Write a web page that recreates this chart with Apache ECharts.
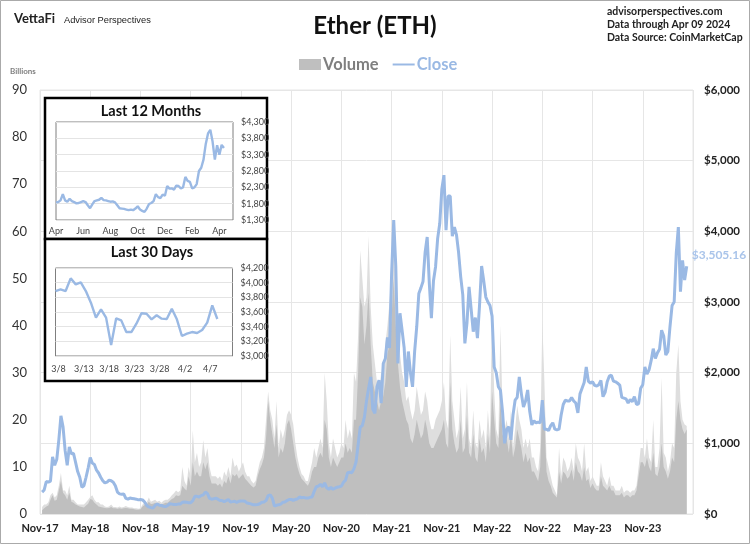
<!DOCTYPE html>
<html>
<head>
<meta charset="utf-8">
<title>Ether (ETH)</title>
<style>
  html, body { margin: 0; padding: 0; background: #fff; }
  #main { width: 750px; height: 544px; }
</style>
</head>
<body>
<div id="main"></div>
<script src="https://cdnjs.cloudflare.com/ajax/libs/echarts/6.0.0/echarts.min.js"></script>
<script type="text/javascript">
// main chart: four readings per month, starting Nov-17
var tickLabels = ['Nov-17','May-18','Nov-18','May-19','Nov-19','May-20','Nov-20','May-21','Nov-21','May-22','Nov-22','May-23','Nov-23',''];
var close = [
  null,310,340,460, 450,465,810,690, 770,1050,1390,1235, 900,690,950,850, 860,730,600,520, 380,400,520,650,
  800,720,700,620, 580,520,470,440, 450,480,470,450, 400,310,285,280, 285,220,210,225, 220,215,210,200,
  205,200,170,120, 100,90,85,120, 140,125,120,110, 105,120,145,140, 135,135,140,140, 165,170,165,160,
  160,190,250,250, 240,260,270,310, 290,220,210,215, 225,210,190,190, 175,190,205,170, 175,180,165,180,
  185,185,180,155, 150,140,130,130, 135,145,165,170, 190,260,270,225, 110,125,130,140, 165,170,190,205,
  205,195,205,215, 240,230,235,225, 225,235,240,320, 385,395,420,385, 440,370,350,375, 350,365,380,385,
  395,450,480,585, 590,585,640,735, 980,1230,1250,1370, 1600,1780,1940,1480, 1425,1800,1895,1570, 2130,2200,2500,2350,
  3400,4160,3500,2130, 2840,2600,2350,1800, 2300,2000,1800,2300, 2650,3120,3200,3290, 3700,3920,3270,2770, 3300,3500,3900,4110,
  4600,4795,4015,4500, 4500,3930,4060,3950, 3700,3360,3100,2415, 2700,3215,2900,2580, 2780,2490,2950,3510, 3300,3070,3000,2950,
  2800,2080,2000,1800, 1750,1450,1000,1200, 1235,1050,1400,1610, 1650,1940,1700,1515, 1600,1755,1450,1260, 1320,1290,1300,1290,
  1610,1200,1200,1180, 1250,1290,1200,1190, 1200,1400,1550,1610, 1600,1600,1650,1600, 1570,1430,1700,1780, 1860,2080,1880,1850,
  1870,1820,1810,1830, 1890,1660,1720,1870, 1950,1965,1880,1870, 1850,1825,1650,1640, 1630,1570,1620,1590, 1660,1550,1560,1780,
  1830,2080,1980,2040, 2170,2340,2200,2280, 2330,2600,2520,2250, 2300,2650,2950,3000, 3690,4060,3145,3590, 3310,3505.16
];
var volume = [
  null,0.8,1.2,1.6, 1.8,3,4,2.8, 3,5,7,4.5, 4,3,4.5,2.6, 2.4,2,1.8,1.6, 1.5,1.4,1.8,2.2,
  3.2,3,2.4,2, 1.6,1.5,1.4,1.3, 1.2,1.3,1.5,1.2, 1.2,1.1,1.2,1.1, 1.2,1.3,1.2,1.1, 1.1,1,0.9,0.9,
  1,1.6,1.9,2, 2.6,2.1,2.2,2.4, 2.1,2.2,2,2.2, 2.4,2.4,2.8,3.2, 3.4,4,3.8,4, 6,5.4,5,8,
  6,11,8,9, 8,8,11,9.5, 11,8,6.5,6.5, 6.5,6,6.5,5.6, 7,6.5,8,6.5, 8.5,8,8.5,7.5,
  8,8.5,7.5,7, 6.5,6,5.6,6, 8,9.5,10.5,12, 16,24,20,17, 14,19,12,14, 13,15,19,20,
  18,15,12,10, 8.5,7.5,7,6.5, 6,7,9,10, 10,12,13,12, 20,18,12,10, 12,11,10,11,
  12,12,15,13, 14,13,20,20, 30,46,44,36, 40,47,36,28, 26,24,22,24, 25,28,34,36,
  42,50,40,32, 27,24,22,20, 19,16,15,17, 20,18,16,17, 20,18,15,14, 14,15,16,17,
  18,20,15,14, 28,18,15,13, 14,20,13,14, 21,13,12,17, 12,11,16,13, 14,11,17,13,
  26,20,15,14, 24,17,15,16, 13,17,12,14, 18,16,14,11, 13,11,12,9, 9,8,7,10,
  24,20,9,7, 6,4.5,4,3.5, 9,6.5,9,8.5, 7.5,8,9.5,7, 11,9,8.5,7, 10,7,7.5,5.5,
  6.5,5.5,5,5, 8,6,5.5,5, 6,5,5,4, 4,4,4.5,3.5, 4,4,3.5,4, 4,5,8,11,
  11,10,12,10, 9,13,8.5,8, 10,15,10,9, 7.5,9,12,11, 20,24,20,18, 17,18
];
// tops of the daily spikes, which show as a paler fringe above the solid volume
var volumePeak = [
  null,1.5,2,2, 2.5,4,4.5,3.5, 4,6,8.7,5, 5,4,6,3, 3,2.5,2,2, 2,2,2.5,3,
  3.6,4,3,2.5, 2.5,2,2,1.6, 1.5,1.6,2,1.5, 1.5,1.4,1.6,1.4, 1.5,1.7,1.5,1.4, 1.4,1.2,1.2,1.1,
  1.2,2,2.5,2.5, 3.5,2.6,2.8,3, 2.6,2.8,2.4,2.8, 3,3,3.4,4, 4.4,5,4.6,5, 10,7,6,10,
  8,17.8,11,13, 10,11,15.7,12, 14,10,8,8, 8,7.5,8,7, 9,8,10,8, 12,10,10.5,9,
  10,11,9,8, 8,7,6.5,7, 9,11,12,14, 20,26,22,20, 16,24,14,18, 16,18,21,22,
  21,19,15,12, 10,8.5,8,7, 7,9,11,14, 12,14,16,14, 30,24,15,12, 16,14,12,13,
  15,14,20,16, 18,16,30,28, 38,56,50,44, 46,59,44,36, 32,28,26,30, 30,36,40,45,
  52,57,48,40, 34,30,28,24, 25,22,20,22, 27,24,21,22, 26,24,20,18, 18,20,21,22,
  24,28,20,18, 38,24,20,16, 18,27,16,18, 28,16,14,22, 15,14,20,16, 18,14,22,16,
  44,26,18,16, 40,22,18,20, 16,22,14,18, 23,20,18,14, 16,14,16,12, 12,10,9,14,
  41,28,12,10, 8,6,5,4, 14,8,12,11, 9,10,12,9, 15,12,11,9, 15,9,10,7,
  8,7,6,6, 11,8,7,6, 8,6,6,5, 5,5,6,4.5, 5,5,4.5,5, 5,6,10,14,
  14,12,16,12, 11,20,10,10, 14,29,13,12, 9,11,15,14, 30,36,24,20, 19,18.7
];

// last 12 months inset: six readings per month, starting Apr
var yearTicks = ['Apr','Jun','Aug','Oct','Dec','Feb','Apr'];
var yearClose = [
  1840,1850,1900,2090,1900,1860,1950,1880,1850,1810,1820,1850,
  1880,1850,1750,1660,1780,1880,1900,1920,1980,1910,1900,1880,
  1860,1870,1840,1750,1660,1650,1640,1620,1600,1620,1600,1650,
  1720,1620,1580,1550,1650,1790,1820,1880,2090,2000,1970,2080,
  2040,2340,2260,2270,2230,2350,2340,2270,2300,2620,2500,2470,
  2270,2300,2400,2800,2900,3150,3630,3950,4060,3700,3150,3590,
  3300,3600,3505
];

// last 30 days inset: one reading per day, from 3/8 to 4/9
var dayTicks = ['3/8','3/13','3/18','3/23','3/28','4/2','4/7'];
var dayClose = [
  3886,3909,3886,4059,3977,4005,3886,3727,3523,3636,3523,3150,3514,3486,3327,3327,3441,
  3582,3577,3500,3555,3509,3505,3645,3500,3273,3305,3327,3314,3355,3455,3691,3505
];

var font = 'Lato, "Noto Sans", sans-serif';
var closeColor = '#9ab9e4';
var usd = function (v) { return '$' + v.toLocaleString('en-US'); };

var categories = [];
for (var i = 0; i <= 312; i++) categories.push(i % 24 === 0 ? tickLabels[i / 24] : '');
var yearCats = [];
for (var i = 0; i <= 78; i++) yearCats.push(i % 12 === 0 ? yearTicks[i / 12] : '');
var dayCats = [];
for (var i = 0; i <= 35; i++) dayCats.push(i % 5 === 0 ? dayTicks[i / 5] : '');

function insetX(gridIndex, cats, every, padLeft, margin) {
  return {
    type: 'category', gridIndex: gridIndex, data: cats, boundaryGap: false, z: 6,
    axisLine: {show: false}, axisTick: {show: false}, splitLine: {show: false},
    axisLabel: {interval: every - 1, fontFamily: font, fontSize: 9, color: '#444', margin: margin, padding: [0, 0, 0, padLeft]}
  };
}
function insetY(gridIndex, min, max, step) {
  return {
    type: 'value', gridIndex: gridIndex, position: 'right', min: min, max: max, interval: step, z: 6,
    axisLine: {show: false}, axisTick: {show: false},
    splitLine: {lineStyle: {color: '#e4e4e4', width: 1}},
    axisLabel: {formatter: usd, fontFamily: font, fontSize: 9, color: '#444', margin: 8}
  };
}
function text(x, y, str, size, weight, color, family, align) {
  return {type: 'text', z: 8, x: x, y: y, style: {text: str, fontSize: size, fontWeight: weight, fill: color,
    fontFamily: family || font, textAlign: align || 'left', textVerticalAlign: 'middle'}};
}

var myChart = echarts.init(document.getElementById('main'));
myChart.setOption({
  animation: false,
  backgroundColor: '#fff',
  legend: {
    top: 51, left: 294, itemGap: 14, itemWidth: 22, itemHeight: 11,
    selectedMode: false,
    data: [
      {name: 'Volume', icon: 'path://M0 0H100V50H0Z', textStyle: {color: '#7f7f7f'}},
      {name: 'Close', icon: 'path://M0 0H100V9H0Z', textStyle: {color: closeColor}}
    ],
    textStyle: {fontFamily: font, fontSize: 16.5, fontWeight: 'bold', padding: [0, 0, 0, -3]}
  },
  grid: [
    {left: 40, right: 57, top: 90, bottom: 30, show: true, borderColor: '#e6e6e6', borderWidth: 1, backgroundColor: 'transparent'},
    {left: 56, top: 122, width: 177, height: 98, show: true, z: 6, borderColor: '#7f7f7f', borderWidth: 1},
    {left: 55.5, top: 268, width: 177, height: 88, show: true, z: 6, borderColor: '#7f7f7f', borderWidth: 1}
  ],
  xAxis: [
    {
      type: 'category', gridIndex: 0, data: categories, boundaryGap: false,
      axisLine: {show: false}, axisTick: {show: false},
      splitLine: {show: true, interval: 23, lineStyle: {color: '#e6e6e6', width: 1}},
      axisLabel: {interval: 23, fontFamily: font, fontSize: 11, fontWeight: 'bold', color: '#222', margin: 9}
    },
    insetX(1, yearCats, 12, 0, 7),
    insetX(2, dayCats, 5, 6, 9)
  ],
  yAxis: [
    {
      type: 'value', gridIndex: 0, min: 0, max: 90, interval: 10, position: 'left',
      axisLine: {show: false}, axisTick: {show: false}, splitLine: {show: false},
      axisLabel: {fontFamily: font, fontSize: 13, color: '#333', margin: 13}
    },
    {
      type: 'value', gridIndex: 0, min: 0, max: 6000, interval: 1000, position: 'right',
      axisLine: {show: false}, axisTick: {show: false},
      splitLine: {show: true, lineStyle: {color: '#e6e6e6', width: 1}},
      axisLabel: {formatter: usd, fontFamily: font, fontSize: 11.5, fontWeight: 'bold', color: '#222', margin: 11}
    },
    insetY(1, 1300, 4300, 500),
    insetY(2, 3000, 4200, 200)
  ],
  series: [
    {
      name: 'Volume peak', type: 'line', xAxisIndex: 0, yAxisIndex: 0, data: volumePeak, z: 2,
      showSymbol: false, silent: true, lineStyle: {width: 0}, itemStyle: {color: '#dedede'},
      areaStyle: {color: '#dedede', opacity: 1}
    },
    {
      name: 'Volume', type: 'line', xAxisIndex: 0, yAxisIndex: 0, data: volume, z: 3,
      showSymbol: false, lineStyle: {width: 0}, itemStyle: {color: '#bfbfbf'},
      areaStyle: {color: '#bfbfbf', opacity: 1}
    },
    {
      name: 'Close', type: 'line', xAxisIndex: 0, yAxisIndex: 1, data: close, z: 4,
      symbol: 'none', lineStyle: {width: 3, color: closeColor}, itemStyle: {color: closeColor},
      endLabel: {
        show: true, distance: 5, offset: [0, -11], color: '#a9c4ea', fontFamily: font, fontSize: 12, fontWeight: 'bold',
        formatter: function (p) { return usd(p.value); }
      }
    },
    {
      name: 'Last 12 Months', type: 'line', xAxisIndex: 1, yAxisIndex: 2, data: yearClose, z: 7,
      symbol: 'none', lineStyle: {width: 2.4, color: closeColor}
    },
    {
      name: 'Last 30 Days', type: 'line', xAxisIndex: 2, yAxisIndex: 3, data: dayClose, z: 7,
      symbol: 'none', lineStyle: {width: 2.4, color: closeColor}
    }
  ],
  graphic: [
    {type: 'rect', z: 0, shape: {x: 0.5, y: 0.5, width: 749, height: 543}, style: {fill: 'none', stroke: '#aaa', lineWidth: 1}},
    {type: 'rect', z: 5, shape: {x: 45, y: 98, width: 222, height: 141}, style: {fill: '#fff', stroke: '#000', lineWidth: 2.5}},
    {type: 'rect', z: 5, shape: {x: 45, y: 239, width: 222, height: 142}, style: {fill: '#fff', stroke: '#000', lineWidth: 2.5}},
    text(375, 26, 'Ether (ETH)', 24, 'bold', '#111', null, 'center'),
    text(14, 19, 'VettaFi', 13, 'bold', '#222'),
    text(64, 20, 'Advisor Perspectives', 9.3, 'normal', '#222', '"Liberation Sans", sans-serif'),
    text(607, 12, 'advisorperspectives.com', 10.5, 'bold', '#222'),
    text(607, 25, 'Data through Apr 09 2024', 10.5, 'bold', '#222'),
    text(607, 38, 'Data Source: CoinMarketCap', 10.5, 'bold', '#222'),
    text(10, 71, 'Billions', 8, 'bold', '#7f7f7f'),
    text(151, 111, 'Last 12 Months', 14.5, 'bold', '#111', null, 'center'),
    text(152, 252, 'Last 30 Days', 14.5, 'bold', '#111', null, 'center')
  ]
});
</script>
</body>
</html>
